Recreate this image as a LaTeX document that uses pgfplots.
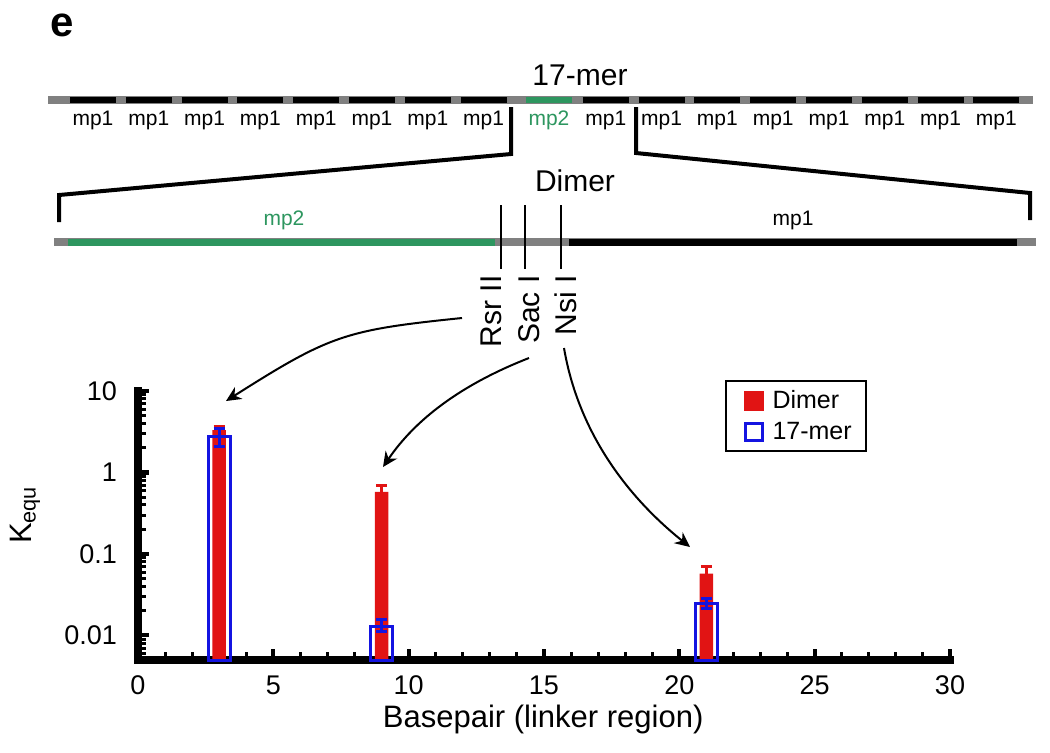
\documentclass[border=0pt]{standalone}
\usepackage{fontspec}
\setmainfont{Liberation Sans}
\usepackage{pgfplots}
\usepackage{pgfplotstable}
\pgfplotsset{compat=1.18}
\usetikzlibrary{arrows.meta}
\definecolor{dgreen}{RGB}{45,150,95}
\definecolor{sgray}{RGB}{128,128,128}
\definecolor{bred}{RGB}{225,20,20}
\definecolor{bblue}{RGB}{20,20,225}

\pgfplotstableread{
x y ep em
3 3.3 0.4 0.4
9 0.577 0.11 0.11
21 0.0573 0.013 0.013
}\dimer
\pgfplotstableread{
x y ep em
3 2.8 0.7 0.7
9 0.0130 0.0027 0.0017
21 0.0249 0.0033 0.0035
}\seventeen

\begin{document}
\begin{tikzpicture}
\path[use as bounding box] (0,0) rectangle (525pt,-376pt);
\begin{scope}[x=0.5pt,y=-0.5pt]
\node[font=\fontsize{21}{24}\selectfont\bfseries] at (62,25) {e};
\node[font=\fontsize{15}{18}\selectfont] at (580,75) {17-mer};
% 17-mer bar
\draw[sgray, line width=4pt] (48,100) -- (1033,100);
\foreach \i in {0,...,7} {
  \draw[black, line width=3pt] ({70+55.8*\i},100) -- ({116+55.8*\i},100);
  \node[font=\fontsize{10.5}{12}\selectfont] at ({93+55.8*\i},120) {mp1};
  \draw[black, line width=3pt] ({582.8+55.8*\i},100) -- ({628.8+55.8*\i},100);
  \node[font=\fontsize{10.5}{12}\selectfont] at ({605.8+55.8*\i},120) {mp1};
}
\draw[dgreen, line width=3pt] (525.6,100) -- (572,100);
\node[font=\fontsize{10.5}{12}\selectfont, text=dgreen] at (549,120) {mp2};
% brackets
\draw[line width=2pt, line join=miter] (511,107) -- (511,154) -- (59,195) -- (59,222);
\draw[line width=2pt, line join=miter] (636,107) -- (636,153) -- (1030,193) -- (1030,220);
% dimer
\node[font=\fontsize{15}{18}\selectfont] at (575,181) {Dimer};
\draw[sgray, line width=4.2pt] (54,242) -- (1036,242);
\draw[dgreen, line width=3.5pt] (68,242) -- (495,242);
\draw[black, line width=3.5pt] (569,242) -- (1017,242);
\node[font=\fontsize{10.5}{12}\selectfont, text=dgreen] at (284,220) {mp2};
\node[font=\fontsize{10.5}{12}\selectfont] at (793,220) {mp1};
% restriction sites
\draw[line width=1.3pt] (501,205) -- (501,269);
\draw[line width=1.3pt] (525,205) -- (525,269);
\draw[line width=1.3pt] (561,205) -- (561,269);
\node[rotate=90, anchor=east, inner sep=0pt, font=\fontsize{15}{18}\selectfont] at (491,275) {Rsr II};
\node[rotate=90, anchor=east, inner sep=0pt, font=\fontsize{15}{18}\selectfont] at (529,275) {Sac I};
\node[rotate=90, anchor=east, inner sep=0pt, font=\fontsize{15}{18}\selectfont] at (566,275) {Nsi I};
% arrows
\draw[line width=1pt, -{Stealth[length=7.5pt,width=7pt]}] (462,318) .. controls (345,330) and (330,335) .. (226,401);
\draw[line width=1pt, -{Stealth[length=7.5pt,width=7pt]}] (529,358) .. controls (460,385) and (415,420) .. (383,467);
\draw[line width=1pt, -{Stealth[length=7.5pt,width=7pt]}] (564,348) .. controls (578,430) and (625,495) .. (690,547);
\end{scope}
\begin{axis}[
  at={(69pt,-330pt)}, anchor=south west,
  scale only axis, width=406pt, height=134.5pt,
  ymode=log, log origin y=infty,
  xmin=0, xmax=30, ymin=0.005, ymax=10,
  axis x line=bottom, axis y line=left,
  axis line style={-, line width=4pt, line cap=rect},
  xtick={0,5,...,30}, minor x tick num=4,
  ytick={0.01,0.1,1,10}, yticklabels={0.01,0.1,1,10},
  minor ytick={0.006,0.007,0.008,0.009,0.02,0.03,0.04,0.05,0.06,0.07,0.08,0.09,0.2,0.3,0.4,0.5,0.6,0.7,0.8,0.9,2,3,4,5,6,7,8,9},
  tick align=inside,
  major tick length=5.5pt, minor tick length=4pt,
  major tick style={line width=2pt, black},
  minor tick style={line width=1.5pt, black},
  /pgf/number format/assume math mode=true,
  tick label style={font=\fontsize{13.5}{16}\selectfont},
  xticklabel style={yshift=-4.5pt},
  yticklabel style={xshift=-7pt},
  xlabel={Basepair (linker region)},
  xlabel style={font=\fontsize{15.5}{18}\selectfont, at={(axis description cs:0.499,-0.222)}, anchor=center},
  ylabel={K\textsubscript{equ}},
  ylabel style={font=\fontsize{15.5}{18}\selectfont, at={(axis description cs:-0.139,0.539)}, anchor=center},
  legend style={at={(0.7229,1.041)}, anchor=north west, draw=black, line width=1pt,
     font=\fontsize{12.5}{15}\selectfont, inner xsep=5pt, inner ysep=2.5pt, row sep=1.5pt,
     /tikz/every odd column/.style={column sep=2pt}},
  legend cell align=left,
  clip=false,
]
\addplot[ybar, bar width=0.5, bar shift=0pt, fill=bred, draw=none, forget plot,
  error bars/.cd, y dir=plus, y explicit,
  error bar style={bred, line width=1.5pt},
  error mark options={rotate=90, bred, line width=1.5pt, mark size=2.75pt}]
  table[x=x, y=y, y error plus=ep, y error minus=em] {\dimer};
\addplot[ybar, bar width=0.8, bar shift=0pt, fill=none, draw=bblue, line width=1.5pt, forget plot,
  error bars/.cd, y dir=both, y explicit,
  error bar style={bblue, line width=1.5pt},
  error mark options={rotate=90, bblue, line width=1.5pt, mark size=2.75pt}]
  table[x=x, y=y, y error plus=ep, y error minus=em] {\seventeen};
\addlegendimage{legend image code/.code={\path (0pt,0pt); \node[fill=bred, draw=none, minimum width=10pt, minimum height=10pt, inner sep=0pt, anchor=west] at (3pt,0pt) {};}}
\addlegendentry{Dimer}
\addlegendimage{legend image code/.code={\path (0pt,0pt); \node[fill=none, draw=bblue, line width=1.5pt, minimum width=8.5pt, minimum height=8.5pt, inner sep=0pt, anchor=west] at (3.75pt,0pt) {};}}
\addlegendentry{17-mer}
\end{axis}
\end{tikzpicture}
\end{document}
